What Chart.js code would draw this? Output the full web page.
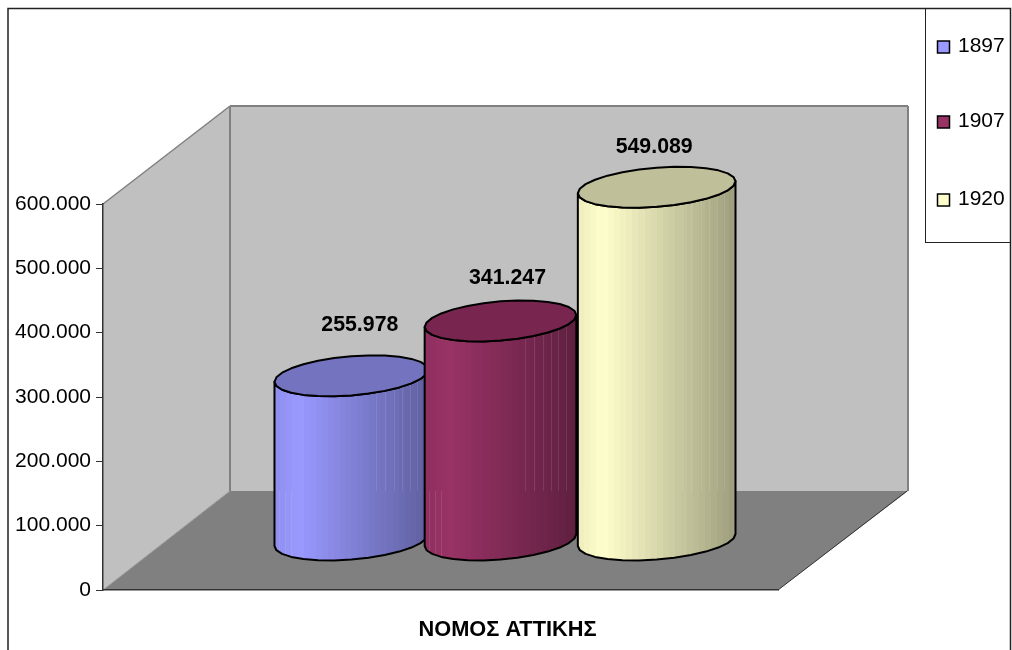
<!DOCTYPE html>
<html>
<head>
<meta charset="utf-8">
<script src="https://cdn.jsdelivr.net/npm/chart.js@4"></script>
<style>
  body { margin: 0; background: #fff; }
  canvas { display: block; }
</style>
</head>
<body>
<canvas id="chart" width="1012" height="650"></canvas>
<script>
const categories = ["ΝΟΜΟΣ ΑΤΤΙΚΗΣ"];
const seriesNames = ["1897", "1907", "1920"];
const values1897 = [255978];
const values1907 = [341247];
const values1920 = [549089];
const yTickLabels = ["0", "100.000", "200.000", "300.000", "400.000", "500.000", "600.000"];
const valueLabels = ["255.978", "341.247", "549.089"];

const baseColors = ["#9999FF", "#993366", "#FFFFCC"];
const topColors = ["#7373BF", "#78264F", "#BFBF99"];

const FONT = '"Liberation Sans", Arial, sans-serif';
// how far the bars stand off the front edge of the floor
const DEPTH_X = 63;
const DEPTH_Y = -49.5;
const ELLIPSE_B = 19.6;
const ELLIPSE_TILT = 6;
// small per-bar corrections, the original bars are not quite equal
const barShift = [1.5, -3, -0.5];
const barGrow = [0, -2, 4];
const labelShift = [[10, -51], [4, -43], [-3, -40]];

// returns a colour scaled by f
function shade(hex, f) {
  const n = parseInt(hex.slice(1), 16);
  const c = [n >> 16, (n >> 8) & 255, n & 255].map((v) => Math.round(v * f));
  return `rgb(${c[0]},${c[1]},${c[2]})`;
}

function brightness(u) {
  if (u < 0.16) return 0.93 + (u / 0.16) * 0.07;
  return 1 - ((u - 0.16) / 0.84) * 0.38;
}

// banded left to right fill, looks like the facets of the cylinder
function bandedFill(ctx, left, right, color) {
  const g = ctx.createLinearGradient(left, 0, right, 0);
  const bands = 26;
  for (let i = 0; i < bands; i++) {
    const c = shade(color, brightness((i + 0.5) / bands));
    g.addColorStop(i / bands, c);
    g.addColorStop((i + 1) / bands, c);
  }
  return g;
}

function ellipsePoint(cx, cy, a, t) {
  return [cx + a * Math.cos(t), cy - ELLIPSE_TILT * Math.cos(t) - ELLIPSE_B * Math.sin(t)];
}

function bodyPath(ctx, cx, topY, bottomY, a) {
  const steps = 14;
  ctx.beginPath();
  for (let s = 0; s <= steps; s++) {
    const p = ellipsePoint(cx, topY, a, Math.PI + (s / steps) * Math.PI);
    if (s === 0) ctx.moveTo(p[0], p[1]);
    else ctx.lineTo(p[0], p[1]);
  }
  for (let s = 0; s <= steps; s++) {
    const p = ellipsePoint(cx, bottomY, a, 2 * Math.PI - (s / steps) * Math.PI);
    ctx.lineTo(p[0], p[1]);
  }
  ctx.closePath();
}

function drawCylinder(ctx, cx, topY, bottomY, width, i) {
  const a = width / 2;
  const left = cx - a;
  const right = cx + a;

  bodyPath(ctx, cx, topY, bottomY, a);
  ctx.fillStyle = bandedFill(ctx, left, right, baseColors[i]);
  ctx.fill();

  // thin light seams between the facets
  ctx.save();
  ctx.clip();
  ctx.strokeStyle = "rgba(255,255,255,0.1)";
  ctx.lineWidth = 1;
  [0.03, 0.07, 0.11, 0.66, 0.72, 0.78, 0.83, 0.88, 0.93].forEach((u) => {
    const x = Math.round(left + u * width) + 0.5;
    ctx.beginPath();
    ctx.moveTo(x, u < 0.5 ? 491 : topY);
    ctx.lineTo(x, u < 0.5 ? bottomY + 30 : 491);
    ctx.stroke();
  });
  ctx.restore();

  bodyPath(ctx, cx, topY, bottomY, a);
  ctx.strokeStyle = "#000";
  ctx.lineWidth = 2;
  ctx.lineJoin = "round";
  ctx.stroke();

  // lid
  ctx.beginPath();
  for (let s = 0; s < 28; s++) {
    const p = ellipsePoint(cx, topY, a, (s / 28) * 2 * Math.PI);
    if (s === 0) ctx.moveTo(p[0], p[1]);
    else ctx.lineTo(p[0], p[1]);
  }
  ctx.closePath();
  ctx.fillStyle = topColors[i];
  ctx.fill();
  ctx.stroke();
}

function polygon(ctx, pts, fill) {
  ctx.beginPath();
  pts.forEach((p, i) => (i ? ctx.lineTo(p[0], p[1]) : ctx.moveTo(p[0], p[1])));
  ctx.closePath();
  ctx.fillStyle = fill;
  ctx.fill();
}

function segment(ctx, x1, y1, x2, y2, color, width) {
  ctx.beginPath();
  ctx.moveTo(x1, y1);
  ctx.lineTo(x2, y2);
  ctx.strokeStyle = color;
  ctx.lineWidth = width;
  ctx.stroke();
}

// frame, legend box and the walls + floor of the 3d box
const backdrop = {
  id: "backdrop",
  beforeDraw(chart) {
    const ctx = chart.ctx;
    const { left, right, top, bottom } = chart.chartArea;
    const wx = 127;
    const wy = 98;
    const floorY = bottom - 99;
    ctx.save();
    ctx.fillStyle = "#fff";
    ctx.fillRect(0, 0, chart.width, chart.height);

    ctx.strokeStyle = "#222";
    ctx.lineWidth = 1.5;
    ctx.beginPath();
    ctx.moveTo(8, 650);
    ctx.lineTo(8, 8.5);
    ctx.lineTo(1010.5, 8.5);
    ctx.lineTo(1010.5, 650);
    ctx.stroke();
    ctx.lineWidth = 1;
    ctx.strokeRect(925.5, 8.5, 85, 234);

    polygon(ctx, [[left, bottom], [left, top], [left + wx, top - wy], [left + wx, floorY]], "#C0C0C0");
    polygon(ctx, [[left + wx, top - wy], [right + wx + 3, top - wy], [right + wx + 3, floorY], [left + wx, floorY]], "#C0C0C0");
    polygon(ctx, [[left, bottom], [left + wx, floorY], [right + wx + 3, floorY], [right, bottom]], "#808080");

    const g = "#808080";
    segment(ctx, left, top, left + wx, top - wy, g, 1.5);
    segment(ctx, left + wx, top - wy, right + wx + 3, top - wy, g, 2);
    segment(ctx, left + wx, top - wy, left + wx, floorY, g, 2);
    segment(ctx, right + wx + 3, top - wy, right + wx + 3, floorY, g, 2);
    segment(ctx, left, bottom, left + wx, floorY, "#999", 1);
    segment(ctx, right, bottom, right + wx + 2, floorY, "#333", 1);
    ctx.restore();
  },
  // cylinders replace the plain bars
  beforeDatasetsDraw(chart) {
    const ctx = chart.ctx;
    ctx.save();
    chart.data.datasets.forEach((ds, i) => {
      const bar = chart.getDatasetMeta(i).data[0];
      const cx = bar.x + DEPTH_X + barShift[i];
      const topY = bar.y + DEPTH_Y;
      drawCylinder(ctx, cx, topY, bar.base + DEPTH_Y, bar.width + barGrow[i], i);
    });
    chart.data.datasets.forEach((ds, i) => {
      const bar = chart.getDatasetMeta(i).data[0];
      ctx.font = `bold 21.3px ${FONT}`;
      ctx.fillStyle = "#000";
      ctx.textAlign = "center";
      ctx.textBaseline = "middle";
      ctx.fillText(valueLabels[i], bar.x + DEPTH_X + labelShift[i][0], bar.y + DEPTH_Y + labelShift[i][1]);
    });
    ctx.restore();
    return false;
  },
  afterDraw(chart) {
    const ctx = chart.ctx;
    const rows = [47, 122, 200];
    ctx.save();
    chart.data.datasets.forEach((ds, i) => {
      ctx.fillStyle = baseColors[i];
      ctx.fillRect(937.5, rows[i] - 6, 12, 12);
      ctx.strokeStyle = "#000";
      ctx.lineWidth = 1.5;
      ctx.strokeRect(937.5, rows[i] - 6, 12, 12);
      ctx.font = `21px ${FONT}`;
      ctx.fillStyle = "#000";
      ctx.textAlign = "left";
      ctx.textBaseline = "middle";
      ctx.fillText(ds.label, 958, rows[i] - 1);
    });
    ctx.restore();
  },
};

new Chart(document.getElementById("chart").getContext("2d"), {
  type: "bar",
  data: {
    labels: categories,
    datasets: [
      { label: seriesNames[0], data: values1897, backgroundColor: baseColors[0] },
      { label: seriesNames[1], data: values1907, backgroundColor: baseColors[1] },
      { label: seriesNames[2], data: values1920, backgroundColor: baseColors[2] },
    ],
  },
  options: {
    responsive: false,
    animation: false,
    layout: { padding: { top: 204, right: 234, left: 0, bottom: 0 } },
    datasets: { bar: { barPercentage: 1, categoryPercentage: 0.683 } },
    plugins: { legend: { display: false }, title: { display: false }, tooltip: { enabled: false } },
    scales: {
      x: {
        afterFit: (scale) => { scale.height = 60; },
        grid: { display: false },
        border: { display: true, color: "#333", width: 1.5 },
        ticks: {
          color: "#000",
          font: { family: FONT, size: 21.8, weight: "bold" },
          padding: 19,
          labelOffset: 67,
          maxRotation: 0,
          autoSkip: false,
        },
      },
      y: {
        min: 0,
        max: 600000,
        afterFit: (scale) => { scale.width = 103; },
        grid: { drawOnChartArea: false, drawTicks: true, tickLength: 7, color: "#333" },
        border: { display: true, color: "#333", width: 1.5 },
        ticks: {
          stepSize: 100000,
          color: "#000",
          font: { family: FONT, size: 21 },
          padding: 5,
          callback: (value, index) => yTickLabels[index],
        },
      },
    },
  },
  plugins: [backdrop],
});
</script>
</body>
</html>
